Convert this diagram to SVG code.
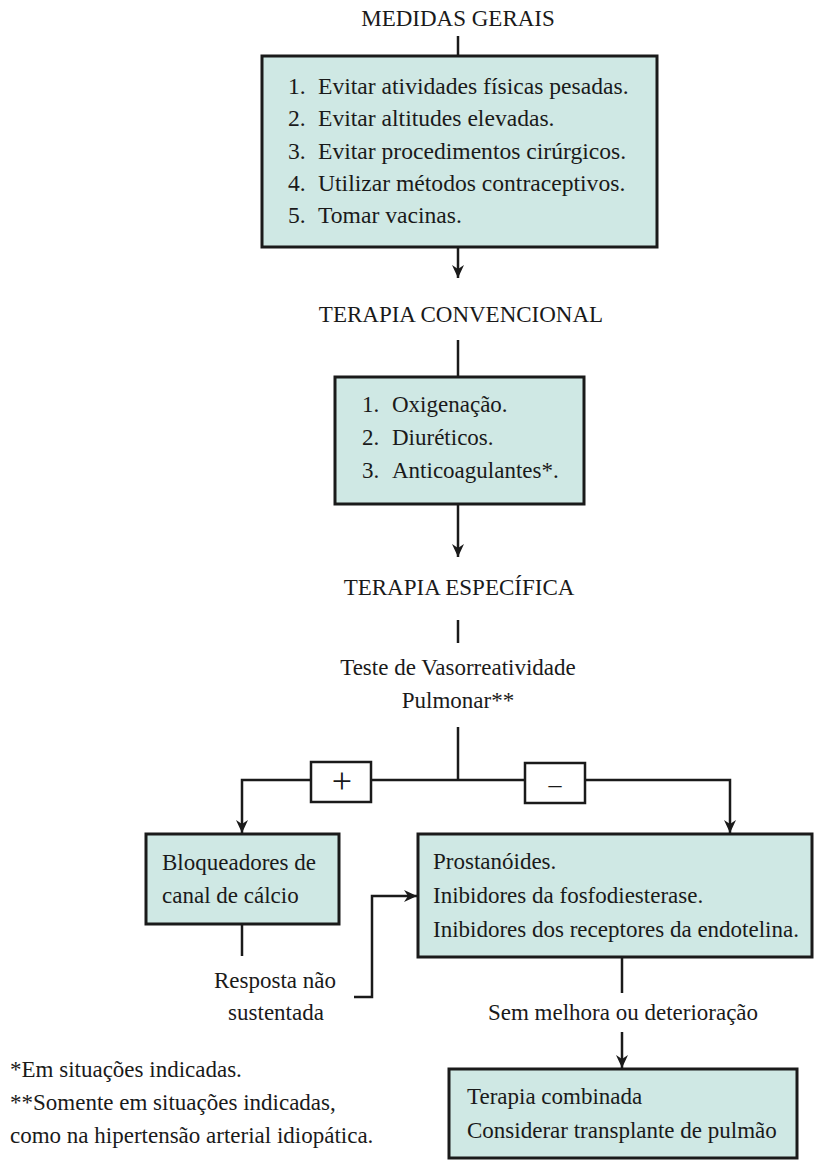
<svg xmlns="http://www.w3.org/2000/svg" width="817" height="1165" viewBox="0 0 817 1165">
<style>
text{font-family:"Liberation Serif","Times New Roman",serif;font-size:23px;fill:#1a1a1a}
.c{text-anchor:middle}
.b1{font-size:23.6px}
.box{fill:#cfe8e4;stroke:#1a1a1a;stroke-width:3}
.sign{fill:#ffffff;stroke:#1a1a1a;stroke-width:2.5}
.ln{fill:none;stroke:#1a1a1a;stroke-width:2.5}
</style>
<defs>
<marker id="ah" viewBox="0 0 14 14" refX="13" refY="7" markerWidth="14" markerHeight="14" markerUnits="userSpaceOnUse" orient="auto">
<path d="M0,1 L13,7 L0,13 L4,7 Z" fill="#1a1a1a"/>
</marker>
</defs>
<rect width="817" height="1165" fill="#ffffff"/>

<g id="connectors">
<line class="ln" x1="458" y1="36" x2="458" y2="56"/>
<line class="ln" x1="458" y1="247" x2="458" y2="278" marker-end="url(#ah)"/>
<line class="ln" x1="458" y1="340" x2="458" y2="377"/>
<line class="ln" x1="458" y1="504" x2="458" y2="557" marker-end="url(#ah)"/>
<line class="ln" x1="458" y1="620" x2="458" y2="643"/>
<line class="ln" x1="458" y1="727" x2="458" y2="780"/>
<path class="ln" d="M458,780 H242 V833" marker-end="url(#ah)"/>
<path class="ln" d="M458,780 H730 V833" marker-end="url(#ah)"/>
<line class="ln" x1="242" y1="924" x2="242" y2="956"/>
<path class="ln" d="M354,997 H372 V896 H417" marker-end="url(#ah)"/>
<line class="ln" x1="622" y1="957" x2="622" y2="993"/>
<line class="ln" x1="622" y1="1032" x2="622" y2="1068" marker-end="url(#ah)"/>
</g>

<g id="medidas-gerais">
<text class="c" x="458" y="26">MEDIDAS GERAIS</text>
</g>
<g id="box-medidas">
<rect class="box" x="262" y="56" width="395" height="191"/>
<text class="b1" x="288" y="94">1.<tspan x="318">Evitar atividades físicas pesadas.</tspan></text>
<text class="b1" x="288" y="126">2.<tspan x="318">Evitar altitudes elevadas.</tspan></text>
<text class="b1" x="288" y="159">3.<tspan x="318">Evitar procedimentos cirúrgicos.</tspan></text>
<text class="b1" x="288" y="191">4.<tspan x="318">Utilizar métodos contraceptivos.</tspan></text>
<text class="b1" x="288" y="223">5.<tspan x="318">Tomar vacinas.</tspan></text>
</g>
<g id="terapia-convencional">
<text class="c" x="461" y="322">TERAPIA CONVENCIONAL</text>
</g>
<g id="box-convencional">
<rect class="box" x="335" y="377" width="249" height="127"/>
<text x="362" y="412">1.<tspan x="392">Oxigenação.</tspan></text>
<text x="362" y="445">2.<tspan x="392">Diuréticos.</tspan></text>
<text x="362" y="478">3.<tspan x="392">Anticoagulantes*.</tspan></text>
</g>
<g id="terapia-especifica">
<text class="c" x="459" y="595">TERAPIA ESPECÍFICA</text>
</g>
<g id="teste">
<text class="c" x="458" y="675">Teste de Vasorreatividade</text>
<text class="c" x="458" y="708">Pulmonar**</text>
</g>
<g id="sinal-mais">
<rect class="sign" x="311" y="762" width="60" height="40"/>
<text class="c" x="342" y="793" style="font-size:36px">+</text>
</g>
<g id="sinal-menos">
<rect class="sign" x="525" y="763" width="60" height="40"/>
<text class="c" x="555" y="793" style="font-size:26px">–</text>
</g>
<g id="box-bloqueadores">
<rect class="box" x="146" y="834" width="193" height="90"/>
<text x="162" y="870">Bloqueadores de</text>
<text x="162" y="903">canal de cálcio</text>
</g>
<g id="box-prostanoides">
<rect class="box" x="418" y="834" width="394" height="123"/>
<text x="433" y="869">Prostanóides.</text>
<text x="433" y="903">Inibidores da fosfodiesterase.</text>
<text x="433" y="937">Inibidores dos receptores da endotelina.</text>
</g>
<g id="resposta">
<text class="c" x="275" y="988">Resposta não</text>
<text class="c" x="276" y="1020">sustentada</text>
</g>
<g id="sem-melhora">
<text class="c" x="623" y="1020">Sem melhora ou deterioração</text>
</g>
<g id="box-combinada">
<rect class="box" x="449" y="1069" width="348" height="89"/>
<text x="467" y="1104">Terapia combinada</text>
<text x="467" y="1138">Considerar transplante de pulmão</text>
</g>
<g id="notas">
<text x="10" y="1077">*Em situações indicadas.</text>
<text x="10" y="1110">**Somente em situações indicadas,</text>
<text x="10" y="1143">como na hipertensão arterial idiopática.</text>
</g>
</svg>
